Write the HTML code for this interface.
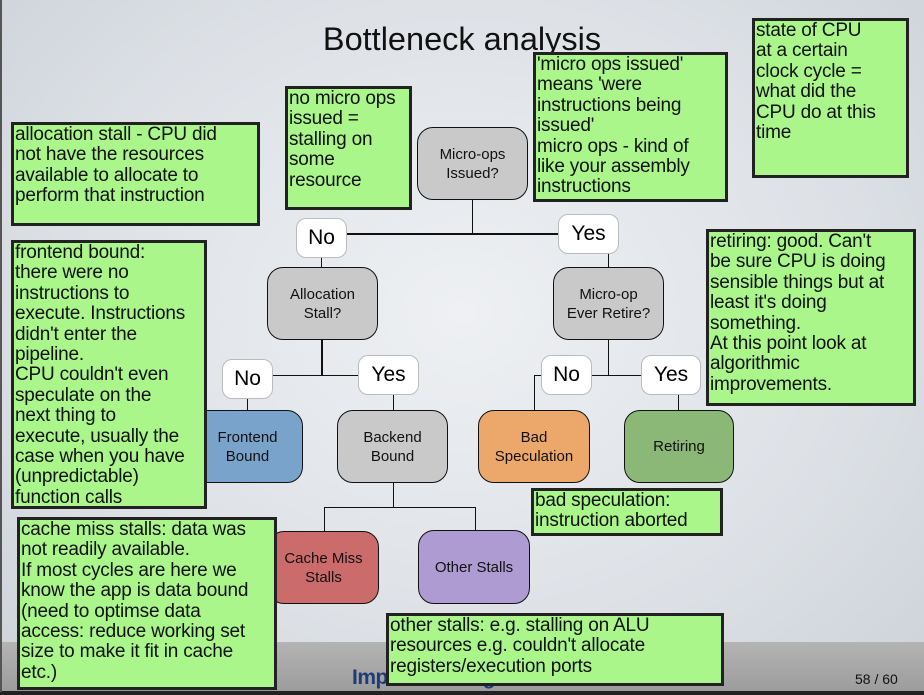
<!DOCTYPE html>
<html><head><meta charset="utf-8"><style>
body{margin:0;width:924px;height:695px;overflow:hidden;position:relative;font-family:"Liberation Sans",sans-serif;
background:radial-gradient(ellipse at 50% 45%,#eef0f3 0%,#dde1e6 60%,#cdd2d8 100%);}
.band{position:absolute;left:0;top:642px;width:924px;height:50px;background:linear-gradient(#b4b4b4,#9c9c9c);}
.bl{position:absolute;left:0;top:691px;width:924px;height:4px;background:#222;}
.note{position:absolute;background:#aaf68b;border:3px solid #222;box-sizing:border-box;font-size:19px;line-height:20.4px;color:#111;padding:0 1px;white-space:nowrap;overflow:hidden;letter-spacing:-0.2px}
.node{position:absolute;box-sizing:border-box;border:1.5px solid #111;border-radius:16px;display:flex;align-items:center;justify-content:center;text-align:center;font-size:15px;line-height:19px;color:#111;}
.g{background:#c9c9c9}
.lab{position:absolute;background:#fff;border:1px solid #bbb;border-radius:10px;box-sizing:border-box;display:flex;align-items:center;justify-content:center;font-size:21px;color:#000;}
.h{position:absolute;background:#111;}
</style></head><body>
<div class="band"></div><div class="bl"></div>
<div style="position:absolute;left:0;top:0;width:2px;height:692px;background:#555"></div>
<div style="position:absolute;left:0;top:21px;width:924px;text-align:center;font-size:32.5px;color:#111;">Bottleneck analysis</div>
<div style="position:absolute;left:352px;top:666px;font-size:21px;font-weight:bold;color:#1d3c78;letter-spacing:-0.5px">Imperial College London</div>
<div style="position:absolute;left:855px;top:671px;font-size:14px;color:#111">58 / 60</div>

<div class="h" style="left:346px;top:233px;width:212px;height:2px"></div>
<div class="h" style="left:472px;top:200px;width:1px;height:34px"></div>
<div class="h" style="left:321px;top:257px;width:1px;height:10px"></div>
<div class="h" style="left:608px;top:254px;width:1px;height:13px"></div>
<div class="h" style="left:321px;top:340px;width:2px;height:36px"></div>
<div class="h" style="left:272px;top:375px;width:86px;height:1px"></div>
<div class="h" style="left:247px;top:398px;width:1px;height:12px"></div>
<div class="h" style="left:393px;top:395px;width:1px;height:15px"></div>
<div class="h" style="left:608px;top:340px;width:1px;height:36px"></div>
<div class="h" style="left:591px;top:375px;width:50px;height:1px"></div>
<div class="h" style="left:534px;top:375px;width:7px;height:1px"></div>
<div class="h" style="left:534px;top:375px;width:1px;height:35px"></div>
<div class="h" style="left:678px;top:395px;width:1px;height:15px"></div>
<div class="h" style="left:393px;top:483px;width:1px;height:24px"></div>
<div class="h" style="left:324px;top:507px;width:151px;height:1px"></div>
<div class="h" style="left:324px;top:507px;width:1px;height:24px"></div>
<div class="h" style="left:475px;top:507px;width:1px;height:24px"></div>

<div class="node g" style="left:417px;top:127px;width:111px;height:73px">Micro-ops<br>Issued?</div>
<div class="node g" style="left:267px;top:267px;width:111px;height:73px">Allocation<br>Stall?</div>
<div class="node g" style="left:553px;top:267px;width:111px;height:73px">Micro-op<br>Ever Retire?</div>
<div class="node" style="left:192px;top:410px;width:111px;height:73px;background:#7aa3cb">Frontend<br>Bound</div>
<div class="node g" style="left:337px;top:410px;width:111px;height:73px">Backend<br>Bound</div>
<div class="node" style="left:478px;top:410px;width:112px;height:73px;background:#eca86a">Bad<br>Speculation</div>
<div class="node" style="left:624px;top:410px;width:110px;height:73px;background:#8bb876">Retiring</div>
<div class="node" style="left:268px;top:531px;width:111px;height:73px;background:#cc6b6b">Cache Miss<br>Stalls</div>
<div class="node" style="left:418px;top:530px;width:112px;height:74px;background:#ad9bd1">Other Stalls</div>

<div class="lab" style="left:296px;top:218px;width:51px;height:40px">No</div>
<div class="lab" style="left:558px;top:214px;width:61px;height:40px">Yes</div>
<div class="lab" style="left:222px;top:359px;width:51px;height:40px">No</div>
<div class="lab" style="left:358px;top:355px;width:61px;height:40px">Yes</div>
<div class="lab" style="left:541px;top:355px;width:51px;height:40px">No</div>
<div class="lab" style="left:641px;top:355px;width:60px;height:40px">Yes</div>

<div class="note" style="left:11px;top:122px;width:249px;height:104px">allocation stall - CPU did<br>not have the resources<br>available to allocate to<br>perform that instruction</div>
<div class="note" style="left:285px;top:86px;width:127px;height:124px">no micro ops<br>issued =<br>stalling on<br>some<br>resource</div>
<div class="note" style="left:533px;top:52px;width:195px;height:150px">'micro ops issued'<br>means 'were<br>instructions being<br>issued'<br>micro ops - kind of<br>like your assembly<br>instructions</div>
<div class="note" style="left:752px;top:18px;width:157px;height:160px">state of CPU<br>at a certain<br>clock cycle =<br>what did the<br>CPU do at this<br>time</div>
<div class="note" style="left:11px;top:240px;width:196px;height:269px">frontend bound:<br>there were no<br>instructions to<br>execute. Instructions<br>didn't enter the<br>pipeline.<br>CPU couldn't even<br>speculate on the<br>next thing to<br>execute, usually the<br>case when you have<br>(unpredictable)<br>function calls</div>
<div class="note" style="left:706px;top:229px;width:210px;height:177px">retiring: good. Can't<br>be sure CPU is doing<br>sensible things but at<br>least it's doing<br>something.<br>At this point look at<br>algorithmic<br>improvements.</div>
<div class="note" style="left:531px;top:488px;width:192px;height:48px">bad speculation:<br>instruction aborted</div>
<div class="note" style="left:17px;top:517px;width:260px;height:173px">cache miss stalls: data was<br>not readily available.<br>If most cycles are here we<br>know the app is data bound<br>(need to optimse data<br>access: reduce working set<br>size to make it fit in cache<br>etc.)</div>
<div class="note" style="left:386px;top:613px;width:338px;height:73px">other stalls: e.g. stalling on ALU<br>resources e.g. couldn't allocate<br>registers/execution ports</div>
</body></html>
